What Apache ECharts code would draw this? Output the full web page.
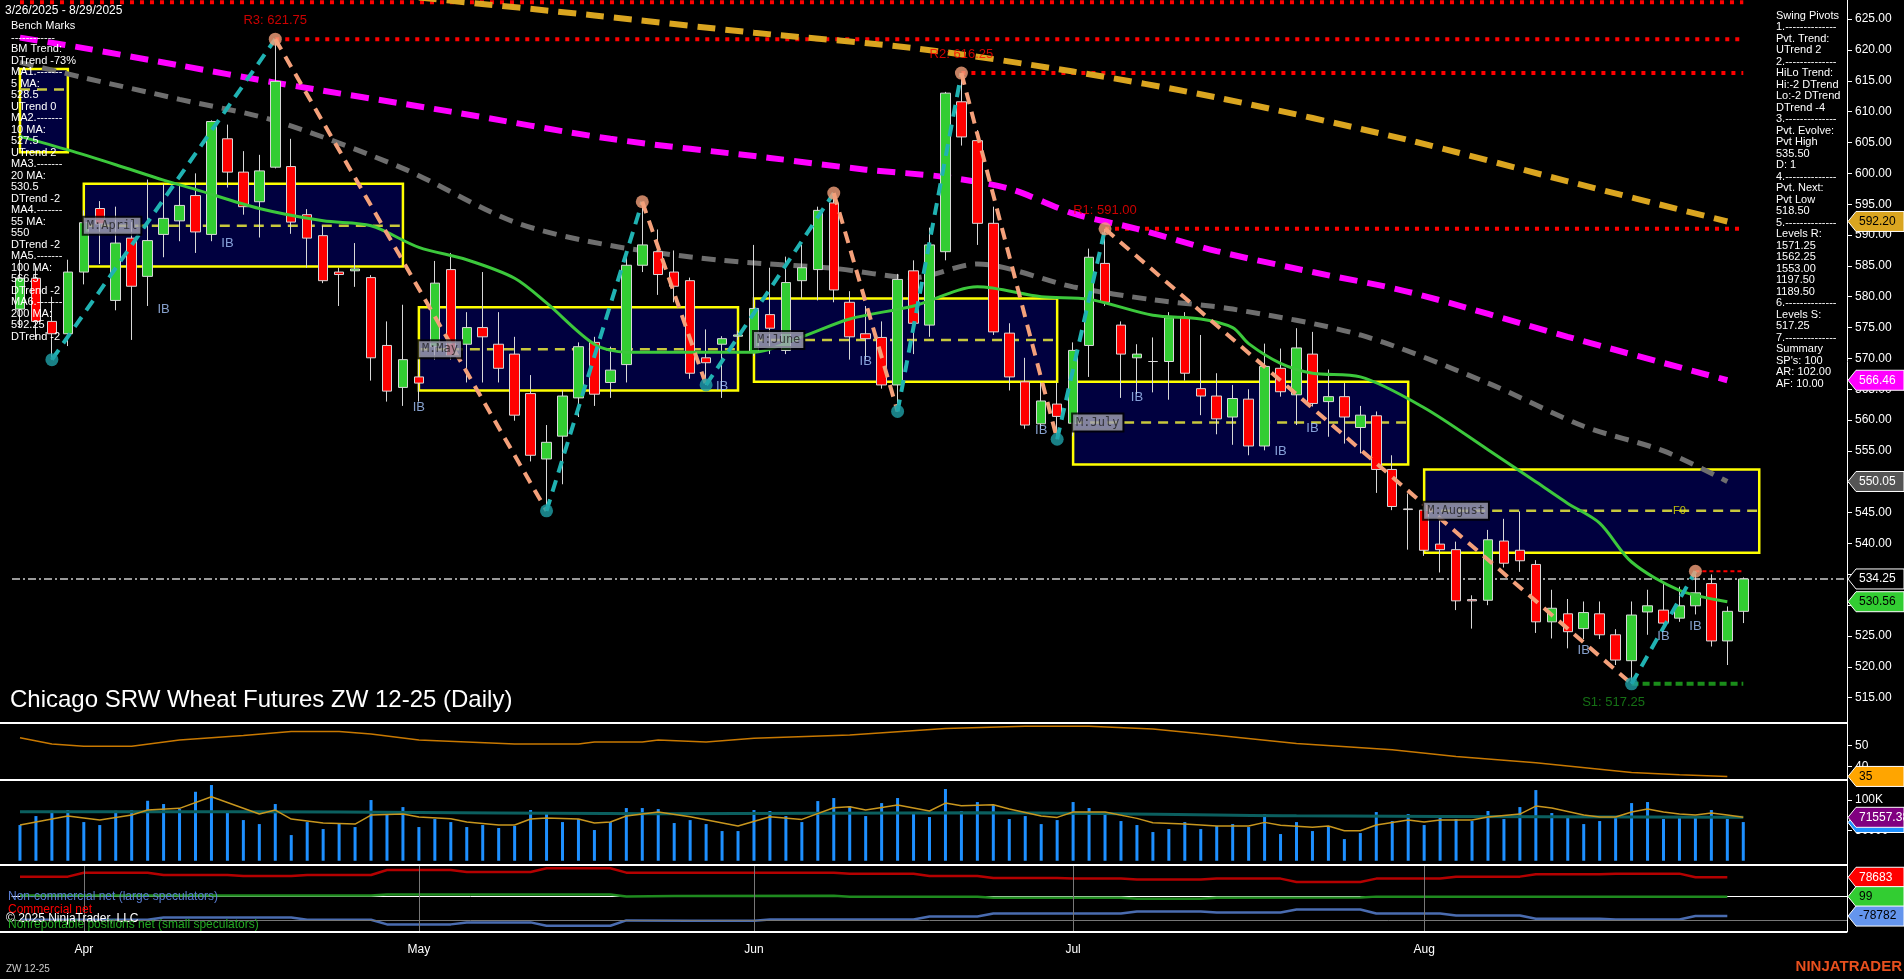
<!DOCTYPE html>
<html><head><meta charset="utf-8">
<script src="https://cdn.jsdelivr.net/npm/echarts@6/dist/echarts.min.js"></script>
<style>html,body{margin:0;padding:0;background:#000;}#c{width:1904px;height:979px;}</style>
</head><body><div id="c"></div>
<script>
// ---------- DATA ----------
const holidays = ['2025-04-18','2025-05-26','2025-06-19','2025-07-04'];
function tradingDays(s, e){const out=[];const d=new Date(s+'T00:00:00Z');const end=new Date(e+'T00:00:00Z');
  while(d<=end){const w=d.getUTCDay();const iso=d.toISOString().slice(0,10);
    if(w!==0&&w!==6&&!holidays.includes(iso)) out.push(iso); d.setUTCDate(d.getUTCDate()+1);} return out;}
const dates = tradingDays('2025-03-26','2025-08-29');
const blankSlots = 6;
const monthTicks = {'2025-04-01':'Apr','2025-05-01':'May','2025-06-02':'Jun','2025-07-01':'Jul','2025-08-01':'Aug'};

// [open, close, low, high]
const candles = [
[578,583,575,586],[583,576,573,585],[576,574,569.8,580],[574,584,572,586],[584,592,582,594],
[594.3,591.8,585.3,595.5],[579.4,588.7,577.8,594.6],[589.5,581.7,573.0,592.1],[583.3,589.1,578.5,599.0],[590.1,592.7,586.4,598.3],
[592.3,594.8,589.0,598.3],[596.4,590.5,587.1,600.0],[590.1,608.4,589.0,608.6],[605.6,600.2,597.7,607.9],[600.2,594.6,593.3,603.6],
[595.4,600.4,589.6,603.0],[601.0,614.9,600.8,621.75],[601.1,592.1,590.2,605.6],[593.3,589.5,584.7,594.2],[589.9,582.6,582.2,591.5],
[584.0,583.6,578.5,584.7],[584.2,584.5,581.6,588.7],[583.1,570.1,566.4,583.5],[572.1,564.7,563.0,576.0],[565.3,569.8,562.3,578.7],
[567,566,563,570],[571.9,582.2,569.8,585.8],[584.4,570.4,569.8,587.1],[572.3,575.0,566.1,577.5],[575.0,573.5,566.1,584.0],
[572.3,568.4,566.1,577.5],[570.7,560.8,559.9,573.5],[564.3,554.3,553.3,567.3],[553.7,556.4,545.3,559.2],[557.4,563.9,549.6,564.8],
[563.6,571.9,560.5,572.6],[572.6,564.2,562.3,573.5],[566.1,568.1,563.6,571.9],[569.0,585.1,566.1,586.5],[585.1,588.4,584.0,595.4],
[587.3,583.6,580.3,590.9],[584.0,581.7,579.1,587.5],[582.6,567.6,566.7,583.1],[570.1,569.3,565.7,574.7],[572.3,573.2,563.6,573.6],
[573.6,573.8,573.0,574.5],[571.0,578.1,570.4,588.4],[577.1,574.9,570.7,584.7],[571.3,582.3,570.7,586.5],[582.6,584.7,579.7,588.4],
[584.4,594.0,579.4,594.6],[595.2,581.1,579.1,596.8],[579.1,573.5,569.8,580.9],[574.0,573.2,569.8,578.5],[573.4,565.7,565.1,576.0],
[565.7,582.8,561.4,583.7],[584.2,575.7,570.7,585.9],[575.4,588.4,573.5,591.2],[587.3,613.0,585.9,613.2],[611.6,605.9,604.5,616.25],
[605.3,591.9,588.4,607.0],[591.9,574.3,573.8,594.6],[574.1,567.0,564.8,575.7],[566.2,559.2,558.6,570.1],[559.4,563.1,558.6,566.1],
[562.6,560.6,556.9,566.1],[559.5,571.3,557.4,572.6],[572.1,586.4,567.0,587.8],[585.4,579.1,578.5,591.0],[575.4,570.7,563.6,576.0],
[570.1,570.7,564.2,572.3],[569.5,569.5,564.5,573.4],[569.5,576.6,563.3,577.5],[576.6,567.6,566.4,577.5],[565.1,563.9,560.8,573.8],
[563.9,560.2,557.7,567.6],[560.5,563.5,556.0,565.7],[563.4,555.8,554.3,565.0],[555.8,568.7,555.1,572.4],[568.4,564.6,563.8,571.6],
[564.1,571.7,559.2,574.9],[570.7,562.7,562.2,574.3],[563.0,563.8,557.3,568.2],[563.8,560.5,556.2,566.0],[558.8,560.8,554.6,562.3],
[560.7,552.0,548.2,561.4],[552.0,546.0,545.4,554.3],[545.6,545.5,539.0,548.1],[545.4,538.9,538.0,546.0],[539.9,539.0,535.3,543.8],
[539.0,530.7,529.2,540.3],[530.9,530.7,526.2,531.6],[530.8,540.6,530.0,542.2],[540.4,536.8,536.1,544.0],[538.9,537.2,535.4,545.2],
[536.6,527.3,525.5,537.3],[527.3,529.5,524.6,532.5],[528.6,525.7,523.0,531.0],[526.2,528.8,524.5,530.6],[528.6,525.2,524.5,530.6],
[525.2,521.1,520.3,526.1],[521.0,528.4,517.25,530.6],[528.9,529.9,525.2,532.5],[529.2,527.1,526.5,533.5],[527.9,529.9,527.3,533.0],
[529.9,532.0,528.5,535.5],[533.5,524.2,523.3,535.0],[524.2,529.0,520.3,529.8],[529.0,534.25,527.1,534.5]];

const volumeK = [58.8,73.6,82.4,83.5,63.7,58.8,82.4,83.5,98.8,93.4,85.1,113.6,124.7,79.1,67.0,60.4,93.4,42.3,63.7,52.2,
62.1,55.5,100,76.9,88.4,55.5,68.7,63.7,55.5,58.8,53.9,57.2,83.5,78.6,63.7,68.7,50.6,63.7,86.8,86.8,85.1,62.1,67.0,
60.4,48.9,48.9,83.5,81.9,73.6,63.7,98.3,103.3,90.1,73.6,95.0,103.3,78.6,72.0,118.1,81.9,96.7,91.7,68.7,73.6,60.4,67.0,
96.7,86.8,78.6,65.4,58.8,47.3,52.2,63.7,52.2,57.2,60.4,55.5,76.9,44.0,63.7,
48.9,57.2,35.7,45.6,80.2,65.4,76.9,58.8,72.0,68.7,65.4,81.9,68.7,88.4,116.4,78.6,72.0,60.4,65.4,72.0,95.0,96.7,68.7,70.3,72.0,83.5,68.7,63.7];
const volAvgK = [[0,58.8],[3,73.6],[5,67.0],[7,75.3],[8,83.5],[10,86.3],[12,105.5],[15,76.9],[16,83.5],[17,68.7],[19,62.1],[21,60.4],[22,75.3],[24,76.9],[25,72.0],[27,69.2],[28,63.7],[30,58.8],[31,58.8],[32,68.7],[33,70.3],[35,68.7],[36,62.1],[37,63.7],[38,73.6],[40,80.2],[42,72.5],[45,57.2],[47,72.5],[49,68.1],[51,87.3],[52,89],[53,83.5],[55,91.7],[57,81.9],[58,95.0],[59,90.6],[61,92.2],[62,85.1],[64,73.6],[65,71.4],[66,80.2],[68,80.2],[70,69.8],[71,62.7],[73,60.4],[75,57.2],[77,57.2],[78,63.2],[79,58.3],[81,55.0],[82,57.2],[83,49.4],[84,49.4],[85,58.8],[87,67.0],[88,63.7],[89,67.0],[91,67.0],[92,72.0],[94,76.9],[95,90.0],[96,86.8],[98,75.3],[99,72.0],[100,72.0],[101,80.2],[102,85.1],[103,80.2],[104,76.9],[105,75.3],[106,78.6],[107,75.3],[108,71.6]];
const volLongK = [[0,80.7],[20,80.3],[40,77.5],[60,79],[80,74],[108,71.56]];

const ma20 = [[0,606],[3,603.8],[6,601.4],[9,598.9],[11,597.4],[15,594.3],[19,592.3],[22,591.5],[25,588],[28,586],[31,583],[33,579],[36,572.3],[38,571],[46,571],[49,573.5],[52,576.4],[56,578.5],[60,581.6],[64,580],[67,579.6],[71,577],[74,576.4],[76,575],[77,572.4],[79,569.2],[81,567.6],[84,567],[88,562],[92,555.2],[95,550],[97,546.5],[99,543.3],[101,537],[104,532.4],[107,530.56]];
const ma55 = [[0,618],[4,615.5],[10,612],[16,608.5],[24,600.8],[31,592.1],[37,588.3],[44,585.9],[51,584.6],[56,583.1],[60,585.3],[66,581.6],[71,579.5],[76,578],[84,573.8],[92,566],[98,559],[103,555],[107,550.05]];
const ma100 = [[0,622],[4,620.3],[10,617.5],[16,614.7],[27,610],[37,605.6],[47,602.5],[53,600.6],[58,599.4],[62,597.5],[66,593.5],[70,591],[75,587.4],[81,584],[87,580.8],[97,573.5],[107,566.46]];
const ma200 = [[25,628.5],[36,625.6],[46,622.8],[56,620.3],[66,616.5],[75,612.3],[87,605.4],[97,598.7],[107,592.2]];

const pivots = [[2,569.8,'L'],[16,621.75,'H'],[33,545.3,'L'],[39,595.4,'H'],[43,565.7,'L'],[51,596.8,'H'],[55,561.4,'L'],[59,616.25,'H'],[65,556.9,'L'],[68,591.0,'H'],[101,517.25,'L'],[105,535.5,'H']];
const levels = [{name:'',v:627.75,from:0},{name:'R3: 621.75',v:621.75,from:16},{name:'R2: 616.25',v:616.25,from:59},{name:'R1: 591.00',v:591.0,from:68}];
const support = {name:'S1: 517.25', v:517.25, from:101};
const lastPrice = 534.25;
const boxes = [ // [fromIdx, toIdx, top, bottom, mid, label]
 [0,3,616.9,603.4,613.6,''],
 [4,24,598.3,584.9,591.5,'M:April'],
 [25,45,578.3,564.8,571.5,'M:May'],
 [46,65,579.7,566.2,573.0,'M:June'],
 [66,87,566.2,552.8,559.6,'M:July'],
 [88,109,552.0,538.5,545.3,'M:August']];
const ibLabels = [[13,588.7],[9,578.0],[25,562.0],[44,565.4],[53,569.5],[64,558.3],[70,563.6],[81,558.7],[79,555.0],[98,522.7],[103,525.0],[105,526.5]];
const adx = [[0,53.8],[2,50.8],[4,49.8],[7,49.8],[10,52.7],[14,54.9],[17,56.8],[20,56.8],[22,55.6],[25,52.7],[28,51.8],[31,50.8],[35,50.8],[36,51.8],[39,51.8],[40,52.7],[43,51.8],[46,53.5],[52,55.1],[58,58.2],[63,59.3],[67,59.3],[71,57.9],[75,55],[80,51],[86,48.1],[90,44.9],[95,41.9],[101,37.3],[104,36.2],[107,35.4]];
const cotCommercialK = [[0,81.2],[3,81.2],[4,97.3],[8,97.3],[9,88],[13,88],[14,84],[17,84],[18,88],[22,88],[23,108.2],[27,108.2],[28,100.1],[32,100.1],[33,115.1],[37,115.1],[38,97.3],[51,97.3],[52,93.3],[56,93.3],[57,84],[60,84],[61,75.9],[65,75.9],[66,73.2],[69,73.2],[70,69.2],[74,69.2],[75,73.2],[79,73.2],[80,59.8],[84,59.8],[85,73.2],[89,73.2],[90,81.2],[94,81.2],[95,90.6],[99,90.6],[100,93.3],[104,93.3],[105,78.683],[107,78.683]];
const cotSmallK = [[0,4.4],[22,4.4],[23,8.5],[37,8.5],[38,0.4],[41,3],[51,3.2],[52,-0.8],[60,-0.8],[61,-4.8],[69,-4.8],[70,-8.9],[74,-8.9],[75,-4.8],[84,-3.6],[85,0.099],[107,0.099]];
const cotLargeK = [[0,-93.7],[8,-93.7],[9,-84.3],[17,-84.3],[18,-93.7],[22,-93.7],[23,-112.5],[27,-112.5],[28,-104.4],[32,-104.4],[33,-117.9],[37,-117.9],[38,-96.3],[42,-97.7],[46,-97.7],[47,-92.3],[56,-92.3],[57,-80.2],[60,-80.2],[61,-68.1],[69,-68.1],[70,-60],[74,-60],[75,-64.1],[79,-64.1],[80,-52],[84,-52],[85,-68.1],[89,-68.1],[90,-76.2],[94,-76.2],[95,-89.7],[99,-89.7],[100,-92.3],[104,-92.3],[105,-78.782],[107,-78.782]];
const leftPanel = ['Bench Marks','------------','BM Trend:','DTrend -73%','MA1.-------','5 MA:','528.5','UTrend 0','MA2.-------','10 MA:','527.5','UTrend 2','MA3.-------','20 MA:','530.5','DTrend -2','MA4.-------','55 MA:','550','DTrend -2','MA5.-------','100 MA:','566.5','DTrend -2','MA6.-------','200 MA:','592.25','DTrend -2'];
const rightPanel = ['Swing Pivots','1.--------------','Pvt. Trend:','UTrend 2','2.--------------','HiLo Trend:','Hi:-2 DTrend','Lo:-2 DTrend','DTrend -4','3.--------------','Pvt. Evolve:','Pvt High','535.50','D: 1','4.--------------','Pvt. Next:','Pvt Low','518.50','5.--------------','Levels R:','1571.25','1562.25','1553.00','1197.50','1189.50','6.--------------','Levels S:','517.25','7.--------------','Summary',"SP's: 100",'AR: 102.00','AF: 10.00'];
const priceTicks = [515,520,525,530,535,540,545,550,555,560,565,570,575,580,585,590,595,600,605,610,615,620,625];

// ---------- CHART ----------
const FONT = 'Liberation Sans, Arial, sans-serif';
const N = dates.length;
const cats = dates.concat(Array.from({length: blankSlots}, (_, i) => 'x' + i));
const monthIdx = cats.map((d, i) => monthTicks[d] ? i : -1).filter(i => i >= 0);
const L = 12, R = 57;
const grids = [
  {left: L, right: R, top: 0, height: 723},
  {left: L, right: R, top: 723, height: 57},
  {left: L, right: R, top: 780, height: 85},
  {left: L, right: R, top: 865, height: 67}];
const xAxes = grids.map((g, i) => ({
  type: 'category', gridIndex: i, data: cats, boundaryGap: true,
  axisLine: {show: i === 3, lineStyle: {color: '#fff'}},
  axisTick: {show: i === 3, alignWithLabel: true, interval: (idx) => monthIdx.includes(idx), lineStyle: {color: '#fff'}, length: 6},
  axisLabel: {show: i === 3, interval: (idx) => monthIdx.includes(idx), formatter: (v) => monthTicks[v] || '', color: '#fff', fontFamily: FONT, fontSize: 12, margin: 12},
  splitLine: {show: false}
}));
const ax = (gi, min, max, cv, fmt) => ({
  type: 'value', gridIndex: gi, position: 'right', min, max, scale: true,
  axisLine: {show: true, lineStyle: {color: '#fff'}},
  axisTick: {show: true, customValues: cv, lineStyle: {color: '#fff'}, length: 5},
  axisLabel: {show: true, customValues: cv, formatter: fmt, color: '#fff', fontFamily: FONT, fontSize: 12, margin: 8},
  splitLine: {show: false}
});
const yAxes = [
  ax(0, 510.9, 628.1, priceTicks, v => v.toFixed(2)),
  ax(1, 33.7, 60.8, [40, 50], v => String(v)),
  ax(2, -7000, 133000, [50000, 100000], v => v >= 100000 ? '100K' : String(v)),
  ax(3, -143400, 128400, [], v => '')];

const series = [];
series.push({type: 'line', xAxisIndex: 0, yAxisIndex: 0, data: [], z: 1, silent: true,
  markArea: {silent: true, itemStyle: {color: '#00003f', borderColor: '#ffff00', borderWidth: 2.5},
    data: boxes.map(b => [{xAxis: b[0], yAxis: b[2]}, {xAxis: b[1], yAxis: b[3]}])}});
boxes.forEach(b => series.push({type: 'line', xAxisIndex: 0, yAxisIndex: 0, z: 2, symbol: 'none', silent: true,
  data: [[b[0], b[4]], [b[1], b[4]]], lineStyle: {color: '#c8c83c', width: 2.5, type: [10, 7]}}));
levels.forEach(l => series.push({type: 'line', xAxisIndex: 0, yAxisIndex: 0, z: 3, symbol: 'none', silent: true,
  data: [[l.from, l.v], [N - 1, l.v]], lineStyle: {color: '#ff0000', width: 4, type: [4, 6]}}));
series.push({type: 'line', xAxisIndex: 0, yAxisIndex: 0, z: 3, symbol: 'none', silent: true,
  data: [[support.from, support.v], [N - 1, support.v]], lineStyle: {color: '#1a8c1a', width: 4, type: [7, 4]}});
series.push({type: 'line', xAxisIndex: 0, yAxisIndex: 0, z: 3, symbol: 'none', silent: true,
  data: [[105, 535.5], [N - 1, 535.5]], lineStyle: {color: '#ff0000', width: 2, type: [4, 3]}});
const maLine = (d, color, w, type, z) => ({type: 'line', xAxisIndex: 0, yAxisIndex: 0, z, symbol: 'none', smooth: 0.3, silent: true,
  data: d, lineStyle: {color, width: w, type}});
series.push(maLine(ma200, '#daa520', 6, [18, 10], 4));
series.push(maLine(ma100, '#ff00ff', 6, [18, 10], 4));
series.push(maLine(ma55, '#6e6e6e', 5, [14, 9], 4));
series.push({type: 'candlestick', xAxisIndex: 0, yAxisIndex: 0, z: 5, barWidth: 10, data: candles,
  itemStyle: {color: '#32cd32', color0: '#ff0000', borderColor: '#d8d8d8', borderColor0: '#d8d8d8', borderWidth: 1}});
series.push(maLine(ma20, '#3cc83c', 3, 'solid', 6));
series.push({type: 'line', xAxisIndex: 0, yAxisIndex: 0, data: [], z: 3,
  markLine: {silent: true, symbol: 'none', label: {show: false}, lineStyle: {color: '#9a9a9a', width: 2, type: [8, 3, 2, 3]}, data: [{yAxis: lastPrice}]}});
for (let i = 0; i < pivots.length - 1; i++) {
  const a = pivots[i], b = pivots[i + 1];
  series.push({type: 'line', xAxisIndex: 0, yAxisIndex: 0, z: 7, symbol: 'none', silent: true,
    data: [[a[0], a[1]], [b[0], b[1]]], lineStyle: {color: a[2] === 'L' ? '#20b2b2' : '#f4a07a', width: 4, type: [12, 8]}});
}
series.push({type: 'scatter', xAxisIndex: 0, yAxisIndex: 0, z: 8, symbolSize: 13, silent: true,
  data: pivots.map(p => ({value: [p[0], p[1]], itemStyle: {color: p[2] === 'H' ? '#f4a07a' : '#1fa0a8'}}))});
series.push({type: 'scatter', xAxisIndex: 0, yAxisIndex: 0, z: 9, symbolSize: 0, silent: true,
  data: levels.filter(l => l.name).map(l => ({value: [l.from, l.v], label: {show: true, formatter: l.name, position: 'top', distance: 12, color: '#ff0000', fontSize: 13, fontFamily: FONT}}))
    .concat([{value: [support.from, support.v], label: {show: true, formatter: support.name, position: 'bottom', distance: 12, offset: [-18, 0], color: '#1a8c1a', fontSize: 13, fontFamily: FONT}}])});
series.push({type: 'scatter', xAxisIndex: 0, yAxisIndex: 0, z: 9, symbolSize: 0, silent: true,
  data: ibLabels, label: {show: true, formatter: 'IB', position: 'inside', color: '#a8c8ff', fontSize: 13, fontFamily: FONT}});
series.push({type: 'scatter', xAxisIndex: 0, yAxisIndex: 0, z: 9, symbolSize: 0, silent: true,
  data: boxes.filter(b => b[5]).map(b => ({value: [b[0], b[4]], label: {show: true, formatter: b[5], position: 'right', distance: 0,
    color: '#202020', backgroundColor: '#a4a4b8', borderColor: '#000', borderWidth: 2, padding: [2, 3], fontSize: 12, fontFamily: 'DejaVu Sans Mono, monospace'}}))});
series.push({type: 'scatter', xAxisIndex: 0, yAxisIndex: 0, z: 9, symbolSize: 0, silent: true,
  data: [{value: [104, 545.3], label: {show: true, formatter: 'F0', position: 'inside', color: '#e8e800', fontSize: 11, fontFamily: FONT}}]});
series.push({type: 'line', xAxisIndex: 1, yAxisIndex: 1, symbol: 'none', data: adx, lineStyle: {color: '#c87800', width: 1.5}});
series.push({type: 'bar', xAxisIndex: 2, yAxisIndex: 2, barWidth: 3, data: volumeK.map(v => v * 1000), itemStyle: {color: '#1e90ff'}});
series.push({type: 'line', xAxisIndex: 2, yAxisIndex: 2, symbol: 'none', smooth: 0.4, data: volLongK.map(p => [p[0], p[1] * 1000]), lineStyle: {color: '#0b5f5f', width: 3}});
series.push({type: 'line', xAxisIndex: 2, yAxisIndex: 2, symbol: 'none', data: volAvgK.map(p => [p[0], p[1] * 1000]), lineStyle: {color: '#c8961e', width: 1.5}});
const cot = (d, c) => ({type: 'line', xAxisIndex: 3, yAxisIndex: 3, symbol: 'none', data: d.map(p => [p[0], p[1] * 1000]), lineStyle: {color: c, width: 2.5}});
series.push(cot(cotCommercialK, '#b40000'));
series.push(cot(cotSmallK, '#1f8a1f'));
series.push(cot(cotLargeK, '#4a6cb0'));
series.push({type: 'line', xAxisIndex: 3, yAxisIndex: 3, data: [],
  markLine: {silent: true, symbol: 'none', label: {show: false}, lineStyle: {color: '#777', width: 1, type: 'solid'},
    data: [{yAxis: -96500}].concat(monthIdx.map(i => ({xAxis: i})))}});

const chart = echarts.init(document.getElementById('c'), null, {renderer: 'canvas'});
chart.setOption({backgroundColor: '#000', animation: false, grid: grids, xAxis: xAxes, yAxis: yAxes, series});

// ---------- overlays ----------
const yPix = (gi, v) => chart.convertToPixel({gridIndex: gi}, [0, v])[1];
const g = [];
[723, 780, 865, 932].forEach(y => g.push({type: 'line', shape: {x1: 0, y1: y, x2: 1847, y2: y}, style: {stroke: '#fff', lineWidth: 2}, z: 100}));
const txt = (x, y, t, o, z) => g.push({type: 'text', x, y, z: z || 101, style: Object.assign({text: t, fill: '#fff', font: '11px ' + FONT, textVerticalAlign: 'middle'}, o || {})});
txt(5, 11, '3/26/2025 - 8/29/2025', {font: '12px ' + FONT});
leftPanel.forEach((t, i) => txt(11, 26.4 + i * 11.5, t));
rightPanel.forEach((t, i) => txt(1776, 15.7 + i * 11.5, t));
txt(10, 700, 'Chicago SRW Wheat Futures ZW 12-25 (Daily)', {font: '24px ' + FONT});
txt(8, 897, 'Non-commercial net (large speculators)', {fill: '#5b7fd6', font: '12px ' + FONT});
txt(8, 910, 'Commercial net', {fill: '#ff0000', font: '12px ' + FONT});
txt(6, 919, '\u00a9 2025 NinjaTrader, LLC', {fill: '#fff', font: '12px ' + FONT});
txt(8, 925, 'Nonreportable positions net (small speculators)', {fill: '#22aa22', font: '12px ' + FONT});
txt(6, 969, 'ZW 12-25', {fill: '#ccc', font: '10px ' + FONT});
txt(1902, 967, 'NINJATRADER', {fill: '#e8501e', font: 'bold 15px ' + FONT, textAlign: 'right'});
const tag = (gi, v, text, bg, fg) => {
  const y = yPix(gi, v);
  g.push({type: 'polygon', z: 102, shape: {points: [[1848, y], [1856, y - 10], [1904, y - 10], [1904, y + 10], [1856, y + 10]]}, style: {fill: bg, stroke: '#fff', lineWidth: 1}});
  if (text) txt(1859, y, text, {fill: fg, font: '12px ' + FONT}, 103);
};
tag(0, 592.2, '592.20', '#daa520', '#000');
tag(0, 566.46, '566.46', '#ff00ff', '#fff');
tag(0, 550.05, '550.05', '#555555', '#fff');
tag(0, 534.25, '534.25', '#000000', '#fff');
tag(0, 530.56, '530.56', '#32cd32', '#000');
tag(1, 35.4, '35', '#ffa500', '#000');
tag(2, 63000, '', '#1e90ff', '#fff');
tag(2, 71557.38, '71557.38', '#800080', '#fff');
tag(3, 78683, '78683', '#ff0000', '#fff');
tag(3, 99, '99', '#32cd32', '#000');
tag(3, -78782, '-78782', '#6495ed', '#000');
chart.setOption({graphic: g});
</script></body></html>
